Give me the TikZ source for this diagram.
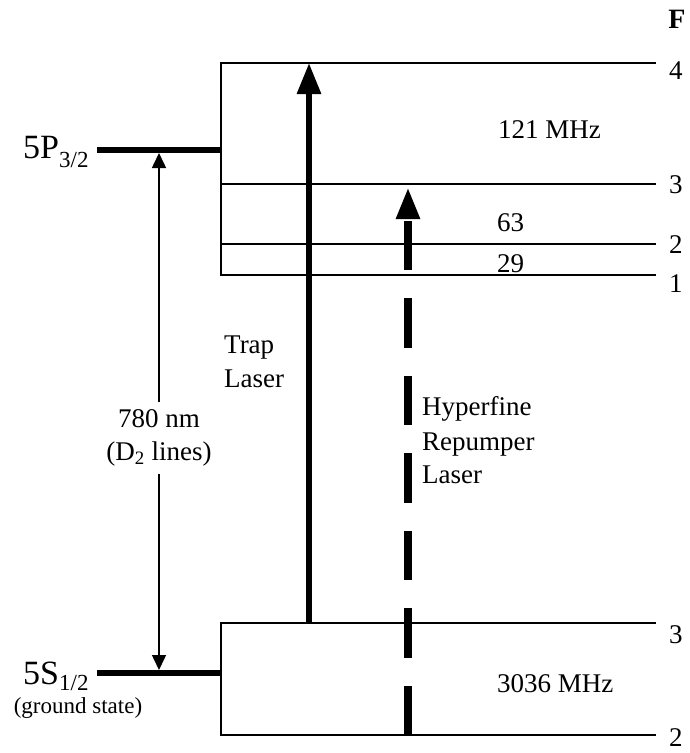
\documentclass[tikz,border=0pt]{standalone}
\usepackage{fontspec}
\setmainfont{Liberation Serif}
\usetikzlibrary{arrows.meta}
\begin{document}
\begin{tikzpicture}[x=1pt,y=-1pt,
  lvl/.style={line width=2.5pt},
  bar/.style={line width=6pt},
  txt/.style={inner sep=0pt, font=\fontsize{27}{33}\selectfont},
  big/.style={inner sep=0pt, font=\fontsize{34}{38}\selectfont},
  small/.style={inner sep=0pt, font=\fontsize{23}{27}\selectfont},
  traparrow/.style={line width=6pt, -{Triangle[length=31pt,width=23pt]}},
  reparrow/.style={line width=8pt, dash pattern=on 49.5pt off 28pt, -{Triangle[length=32pt,width=22pt]}},
  thinarrow/.style={line width=1.5pt, -{Triangle[length=15pt,width=14pt]}}]
\useasboundingbox (0,0) rectangle (689,753);
% level coordinates
\coordinate (u4L) at (221,63);  \coordinate (u4R) at (656,63);
\coordinate (u3L) at (221,184); \coordinate (u3R) at (656,184);
\coordinate (u2L) at (221,244); \coordinate (u2R) at (656,244);
\coordinate (u1L) at (221,275); \coordinate (u1R) at (656,275);
\coordinate (l3L) at (221,623); \coordinate (l3R) at (656,623);
\coordinate (l2L) at (221,735); \coordinate (l2R) at (656,735);
\coordinate (pA) at (97,150);  \coordinate (pB) at (221,150);
\coordinate (sA) at (97,673);  \coordinate (sB) at (221,673);
% hyperfine levels
\draw[lvl, line join=miter] (u4R) -- (u4L) -- (u1L) -- (u1R);
\draw[lvl] (u3L) -- (u3R);
\draw[lvl] (u2L) -- (u2R);
\draw[lvl, line join=miter] (l3R) -- (l3L) -- (l2L) -- (l2R);
% fine levels
\draw[bar] (pA) -- (pB);
\draw[bar] (sA) -- (sB);
% state labels
\node[big, anchor=base west] (p32) at (23,158) {5P\raisebox{-9pt}{\fontsize{23}{23}\selectfont 3/2}};
\node[big, anchor=base west] (s12) at (23,684) {5S\raisebox{-6pt}{\fontsize{23}{23}\selectfont 1/2}};
\node[small, anchor=base] (gs) at (78,713) {(ground state)};
% F labels
\node[inner sep=0pt, font=\fontsize{28}{32}\selectfont\bfseries, anchor=base] (F) at (677,28) {F};
\node[txt, anchor=base west] (f4) at (669,79) {4};
\node[txt, anchor=base west] (f3u) at (669,193) {3};
\node[txt, anchor=base west] (f2u) at (669,253) {2};
\node[txt, anchor=base west] (f1u) at (669,292) {1};
\node[txt, anchor=base west] (f3l) at (669,643) {3};
\node[txt, anchor=base west] (f2l) at (669,746) {2};
% splittings
\node[txt, anchor=base west] (m121) at (498,138) {121 MHz};
\node[txt, anchor=base west] (m63) at (497,231) {63};
\node[txt, anchor=base west] (m29) at (497,272) {29};
\node[txt, anchor=base west] (m3036) at (497,692) {3036 MHz};
% laser labels
\node[txt, anchor=base west] (trap1) at (224,353) {Trap};
\node[txt, anchor=base west] (trap2) at (224,387) {Laser};
\node[txt, anchor=base west] (rep1) at (422,415) {Hyperfine};
\node[txt, anchor=base west] (rep2) at (422,450) {Repumper};
\node[txt, anchor=base west] (rep3) at (422,483) {Laser};
% D2 arrow
\node[txt, align=center, inner xsep=2pt, inner ysep=7pt] (d2) at (159,438) {780 nm\\(D\textsubscript{2} lines)};
\coordinate (d2top) at (159,153);
\coordinate (d2bot) at (159,670);
\draw[thinarrow] (d2.north) -- (d2top);
\draw[thinarrow] (d2.south) -- (d2bot);
% lasers
\coordinate (trapS) at (309,623); \coordinate (trapE) at (309,63);
\draw[traparrow] (trapS) -- (trapE);
\coordinate (repS) at (408,735); \coordinate (repE) at (408,187);
\draw[reparrow] (repS) -- (repE);
\end{tikzpicture}
\end{document}
